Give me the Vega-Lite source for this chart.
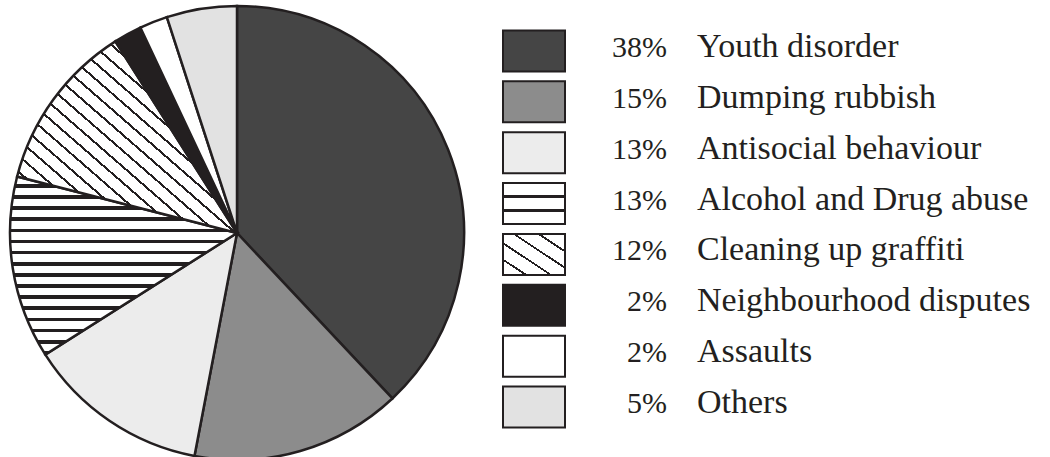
{
  "$schema": "https://vega.github.io/schema/vega-lite/v6.json",
  "padding": 0,
  "spacing": 0,
  "background": "white",
  "config": {"view": {"stroke": null}},
  "data": {"values": [
    {"category": "Youth disorder", "pct": 0.38, "rank": 1},
    {"category": "Dumping rubbish", "pct": 0.15, "rank": 2},
    {"category": "Antisocial behaviour", "pct": 0.13, "rank": 3},
    {"category": "Alcohol and Drug abuse", "pct": 0.13, "rank": 4},
    {"category": "Cleaning up graffiti", "pct": 0.12, "rank": 5},
    {"category": "Neighbourhood disputes", "pct": 0.02, "rank": 6},
    {"category": "Assaults", "pct": 0.02, "rank": 7},
    {"category": "Others", "pct": 0.05, "rank": 8}
  ]},
  "hconcat": [
    {
      "width": 474,
      "height": 466,
      "mark": {"type": "arc", "outerRadius": 227, "stroke": "#231f20", "strokeWidth": 2.5},
      "encoding": {
        "theta": {"field": "pct", "type": "quantitative", "stack": true},
        "order": {"field": "rank", "type": "quantitative"},
        "fill": {
          "condition": [
            {"test": "datum.category === 'Youth disorder'", "value": "#454545"},
            {"test": "datum.category === 'Dumping rubbish'", "value": "#8c8c8c"},
            {"test": "datum.category === 'Antisocial behaviour'", "value": "#ececec"},
            {"test": "datum.category === 'Alcohol and Drug abuse'", "value": {"gradient": "linear", "x1": 0, "y1": 0, "x2": 0, "y2": 1, "stops": [
              {"offset": 0, "color": "#ffffff"}, {"offset": 0.0419, "color": "#ffffff"}, {"offset": 0.0419, "color": "#231f20"}, {"offset": 0.0625, "color": "#231f20"},
              {"offset": 0.0625, "color": "#ffffff"}, {"offset": 0.1044, "color": "#ffffff"}, {"offset": 0.1044, "color": "#231f20"}, {"offset": 0.125, "color": "#231f20"},
              {"offset": 0.125, "color": "#ffffff"}, {"offset": 0.1669, "color": "#ffffff"}, {"offset": 0.1669, "color": "#231f20"}, {"offset": 0.1875, "color": "#231f20"},
              {"offset": 0.1875, "color": "#ffffff"}, {"offset": 0.2294, "color": "#ffffff"}, {"offset": 0.2294, "color": "#231f20"}, {"offset": 0.25, "color": "#231f20"},
              {"offset": 0.25, "color": "#ffffff"}, {"offset": 0.2919, "color": "#ffffff"}, {"offset": 0.2919, "color": "#231f20"}, {"offset": 0.3125, "color": "#231f20"},
              {"offset": 0.3125, "color": "#ffffff"}, {"offset": 0.3544, "color": "#ffffff"}, {"offset": 0.3544, "color": "#231f20"}, {"offset": 0.375, "color": "#231f20"},
              {"offset": 0.375, "color": "#ffffff"}, {"offset": 0.4169, "color": "#ffffff"}, {"offset": 0.4169, "color": "#231f20"}, {"offset": 0.4375, "color": "#231f20"},
              {"offset": 0.4375, "color": "#ffffff"}, {"offset": 0.4794, "color": "#ffffff"}, {"offset": 0.4794, "color": "#231f20"}, {"offset": 0.5, "color": "#231f20"},
              {"offset": 0.5, "color": "#ffffff"}, {"offset": 0.5419, "color": "#ffffff"}, {"offset": 0.5419, "color": "#231f20"}, {"offset": 0.5625, "color": "#231f20"},
              {"offset": 0.5625, "color": "#ffffff"}, {"offset": 0.6044, "color": "#ffffff"}, {"offset": 0.6044, "color": "#231f20"}, {"offset": 0.625, "color": "#231f20"},
              {"offset": 0.625, "color": "#ffffff"}, {"offset": 0.6669, "color": "#ffffff"}, {"offset": 0.6669, "color": "#231f20"}, {"offset": 0.6875, "color": "#231f20"},
              {"offset": 0.6875, "color": "#ffffff"}, {"offset": 0.7294, "color": "#ffffff"}, {"offset": 0.7294, "color": "#231f20"}, {"offset": 0.75, "color": "#231f20"},
              {"offset": 0.75, "color": "#ffffff"}, {"offset": 0.7919, "color": "#ffffff"}, {"offset": 0.7919, "color": "#231f20"}, {"offset": 0.8125, "color": "#231f20"},
              {"offset": 0.8125, "color": "#ffffff"}, {"offset": 0.8544, "color": "#ffffff"}, {"offset": 0.8544, "color": "#231f20"}, {"offset": 0.875, "color": "#231f20"},
              {"offset": 0.875, "color": "#ffffff"}, {"offset": 0.9169, "color": "#ffffff"}, {"offset": 0.9169, "color": "#231f20"}, {"offset": 0.9375, "color": "#231f20"},
              {"offset": 0.9375, "color": "#ffffff"}, {"offset": 0.9794, "color": "#ffffff"}, {"offset": 0.9794, "color": "#231f20"}, {"offset": 1, "color": "#231f20"}
            ]}},
            {"test": "datum.category === 'Cleaning up graffiti'", "value": {"gradient": "linear", "x1": 0, "y1": 1, "x2": 1, "y2": 0, "stops": [
              {"offset": 0, "color": "#ffffff"}, {"offset": 0.0346, "color": "#ffffff"}, {"offset": 0.0346, "color": "#231f20"}, {"offset": 0.0417, "color": "#231f20"},
              {"offset": 0.0417, "color": "#ffffff"}, {"offset": 0.0763, "color": "#ffffff"}, {"offset": 0.0763, "color": "#231f20"}, {"offset": 0.0833, "color": "#231f20"},
              {"offset": 0.0833, "color": "#ffffff"}, {"offset": 0.1179, "color": "#ffffff"}, {"offset": 0.1179, "color": "#231f20"}, {"offset": 0.125, "color": "#231f20"},
              {"offset": 0.125, "color": "#ffffff"}, {"offset": 0.1596, "color": "#ffffff"}, {"offset": 0.1596, "color": "#231f20"}, {"offset": 0.1667, "color": "#231f20"},
              {"offset": 0.1667, "color": "#ffffff"}, {"offset": 0.2013, "color": "#ffffff"}, {"offset": 0.2013, "color": "#231f20"}, {"offset": 0.2083, "color": "#231f20"},
              {"offset": 0.2083, "color": "#ffffff"}, {"offset": 0.2429, "color": "#ffffff"}, {"offset": 0.2429, "color": "#231f20"}, {"offset": 0.25, "color": "#231f20"},
              {"offset": 0.25, "color": "#ffffff"}, {"offset": 0.2846, "color": "#ffffff"}, {"offset": 0.2846, "color": "#231f20"}, {"offset": 0.2917, "color": "#231f20"},
              {"offset": 0.2917, "color": "#ffffff"}, {"offset": 0.3263, "color": "#ffffff"}, {"offset": 0.3263, "color": "#231f20"}, {"offset": 0.3333, "color": "#231f20"},
              {"offset": 0.3333, "color": "#ffffff"}, {"offset": 0.3679, "color": "#ffffff"}, {"offset": 0.3679, "color": "#231f20"}, {"offset": 0.375, "color": "#231f20"},
              {"offset": 0.375, "color": "#ffffff"}, {"offset": 0.4096, "color": "#ffffff"}, {"offset": 0.4096, "color": "#231f20"}, {"offset": 0.4167, "color": "#231f20"},
              {"offset": 0.4167, "color": "#ffffff"}, {"offset": 0.4513, "color": "#ffffff"}, {"offset": 0.4513, "color": "#231f20"}, {"offset": 0.4583, "color": "#231f20"},
              {"offset": 0.4583, "color": "#ffffff"}, {"offset": 0.4929, "color": "#ffffff"}, {"offset": 0.4929, "color": "#231f20"}, {"offset": 0.5, "color": "#231f20"},
              {"offset": 0.5, "color": "#ffffff"}, {"offset": 0.5346, "color": "#ffffff"}, {"offset": 0.5346, "color": "#231f20"}, {"offset": 0.5417, "color": "#231f20"},
              {"offset": 0.5417, "color": "#ffffff"}, {"offset": 0.5763, "color": "#ffffff"}, {"offset": 0.5763, "color": "#231f20"}, {"offset": 0.5833, "color": "#231f20"},
              {"offset": 0.5833, "color": "#ffffff"}, {"offset": 0.6179, "color": "#ffffff"}, {"offset": 0.6179, "color": "#231f20"}, {"offset": 0.625, "color": "#231f20"},
              {"offset": 0.625, "color": "#ffffff"}, {"offset": 0.6596, "color": "#ffffff"}, {"offset": 0.6596, "color": "#231f20"}, {"offset": 0.6667, "color": "#231f20"},
              {"offset": 0.6667, "color": "#ffffff"}, {"offset": 0.7013, "color": "#ffffff"}, {"offset": 0.7013, "color": "#231f20"}, {"offset": 0.7083, "color": "#231f20"},
              {"offset": 0.7083, "color": "#ffffff"}, {"offset": 0.7429, "color": "#ffffff"}, {"offset": 0.7429, "color": "#231f20"}, {"offset": 0.75, "color": "#231f20"},
              {"offset": 0.75, "color": "#ffffff"}, {"offset": 0.7846, "color": "#ffffff"}, {"offset": 0.7846, "color": "#231f20"}, {"offset": 0.7917, "color": "#231f20"},
              {"offset": 0.7917, "color": "#ffffff"}, {"offset": 0.8263, "color": "#ffffff"}, {"offset": 0.8263, "color": "#231f20"}, {"offset": 0.8333, "color": "#231f20"},
              {"offset": 0.8333, "color": "#ffffff"}, {"offset": 0.8679, "color": "#ffffff"}, {"offset": 0.8679, "color": "#231f20"}, {"offset": 0.875, "color": "#231f20"},
              {"offset": 0.875, "color": "#ffffff"}, {"offset": 0.9096, "color": "#ffffff"}, {"offset": 0.9096, "color": "#231f20"}, {"offset": 0.9167, "color": "#231f20"},
              {"offset": 0.9167, "color": "#ffffff"}, {"offset": 0.9513, "color": "#ffffff"}, {"offset": 0.9513, "color": "#231f20"}, {"offset": 0.9583, "color": "#231f20"},
              {"offset": 0.9583, "color": "#ffffff"}, {"offset": 0.9929, "color": "#ffffff"}, {"offset": 0.9929, "color": "#231f20"}, {"offset": 1, "color": "#231f20"}
            ]}},
            {"test": "datum.category === 'Neighbourhood disputes'", "value": "#231f20"},
            {"test": "datum.category === 'Others'", "value": "#e2e2e2"}
          ],
          "value": "#ffffff"
        }
      }
    },
    {
      "width": 576,
      "height": 458,
      "encoding": {
        "y": {"field": "category", "type": "nominal", "sort": null, "scale": {"type": "point", "padding": 1.04}, "axis": null}
      },
      "layer": [
        {
          "mark": {"type": "point", "shape": "M-1,-0.661L1,-0.661L1,0.661L-1,0.661Z", "size": 3844, "filled": true, "opacity": 1, "fillOpacity": 1, "stroke": "#231f20", "strokeWidth": 2},
          "encoding": {
            "x": {"datum": 60, "type": "quantitative", "scale": {"domain": [0, 576], "nice": false, "zero": true}, "axis": null},
            "fill": {
              "condition": [
                {"test": "datum.category === 'Youth disorder'", "value": "#454545"},
                {"test": "datum.category === 'Dumping rubbish'", "value": "#8c8c8c"},
                {"test": "datum.category === 'Antisocial behaviour'", "value": "#ececec"},
                {"test": "datum.category === 'Alcohol and Drug abuse'", "value": {"gradient": "linear", "x1": 0, "y1": 0, "x2": 0, "y2": 1, "stops": [
                  {"offset": 0, "color": "#ffffff"}, {"offset": 0.295, "color": "#ffffff"}, {"offset": 0.295, "color": "#231f20"}, {"offset": 0.37, "color": "#231f20"},
                  {"offset": 0.37, "color": "#ffffff"}, {"offset": 0.63, "color": "#ffffff"}, {"offset": 0.63, "color": "#231f20"}, {"offset": 0.705, "color": "#231f20"},
                  {"offset": 0.705, "color": "#ffffff"}, {"offset": 1, "color": "#ffffff"}
                ]}},
                {"test": "datum.category === 'Cleaning up graffiti'", "value": {"gradient": "linear", "x1": 0, "y1": 1, "x2": 1, "y2": 0, "stops": [
                  {"offset": 0, "color": "#ffffff"}, {"offset": 0.174, "color": "#ffffff"}, {"offset": 0.174, "color": "#231f20"}, {"offset": 0.2, "color": "#231f20"},
                  {"offset": 0.2, "color": "#ffffff"}, {"offset": 0.374, "color": "#ffffff"}, {"offset": 0.374, "color": "#231f20"}, {"offset": 0.4, "color": "#231f20"},
                  {"offset": 0.4, "color": "#ffffff"}, {"offset": 0.574, "color": "#ffffff"}, {"offset": 0.574, "color": "#231f20"}, {"offset": 0.6, "color": "#231f20"},
                  {"offset": 0.6, "color": "#ffffff"}, {"offset": 0.774, "color": "#ffffff"}, {"offset": 0.774, "color": "#231f20"}, {"offset": 0.8, "color": "#231f20"},
                  {"offset": 0.8, "color": "#ffffff"}, {"offset": 1, "color": "#ffffff"}
                ]}},
                {"test": "datum.category === 'Neighbourhood disputes'", "value": "#231f20"},
                {"test": "datum.category === 'Others'", "value": "#e2e2e2"}
              ],
              "value": "#ffffff"
            }
          }
        },
        {
          "mark": {"type": "text", "align": "right", "baseline": "alphabetic", "dy": 6, "font": "Liberation Serif, Times New Roman, serif", "fontSize": 30, "color": "#231f20"},
          "encoding": {
            "x": {"datum": 193, "type": "quantitative"},
            "text": {"field": "pct", "type": "quantitative", "format": ".0%"}
          }
        },
        {
          "mark": {"type": "text", "align": "left", "baseline": "alphabetic", "dy": 6, "font": "Liberation Serif, Times New Roman, serif", "fontSize": 34, "color": "#231f20"},
          "encoding": {
            "x": {"datum": 223, "type": "quantitative"},
            "text": {"field": "category", "type": "nominal"}
          }
        }
      ]
    }
  ]
}
